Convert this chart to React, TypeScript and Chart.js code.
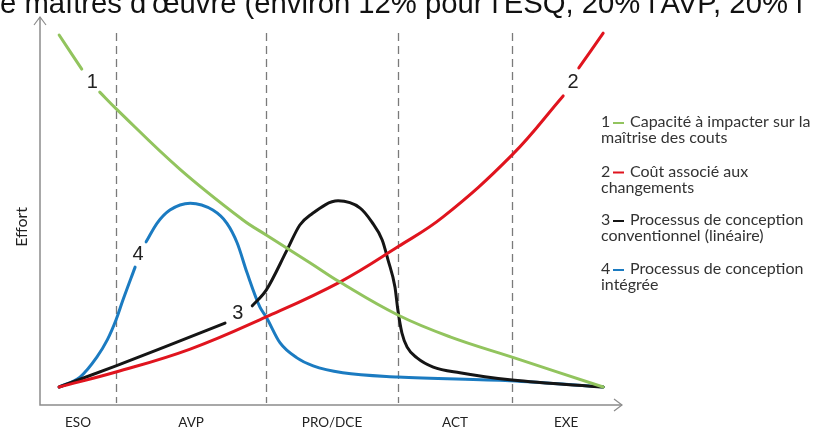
import React, { useEffect, useRef } from "react";
import { Chart, registerables } from "chart.js";

Chart.register(...registerables);

// ---- data ----
const titleText = "e maîtres d'œuvre (environ 12% pour l'ESQ, 20% l'AVP, 20% l";
const phaseLabels = ["ESO", "AVP", "PRO/DCE", "ACT", "EXE"];
const phaseBounds = [0, 13.1, 39.0, 61.7, 81.4, 100];
const axisTitle = "Effort";

// 1 - capacité à impacter (green)
const capaciteX = [3.3, 7.2, 8.8, 10.3, 13.1, 24.1, 35.0, 39.0, 46.6, 51.7, 61.7, 70.7, 81.4, 97.1];
const capaciteY = [96.6, 87.7, null, 81.7, 77.4, 61.6, 48.3, 44.4, 37.1, 32.1, 23.5, 17.8, 12.5, 4.7];

// 2 - coût associé aux changements (red)
const coutX = [3.3, 13.1, 25.9, 39.0, 51.7, 61.7, 69.5, 81.4, 90.2, 91.5, 92.9, 97.1];
const coutY = [4.7, 8.6, 14.6, 23.0, 32.1, 41.3, 49.1, 65.3, 80.7, null, 88.0, 97.1];

// 3 - processus conventionnel (black)
const convX = [3.3, 13.1, 22.4, 31.9, 33.5, 36.6, 39.0, 42.6, 44.8, 46.6, 51.4, 55.2, 57.2, 59.0, 60.0, 61.2, 61.7, 62.4, 63.3, 65.0, 67.8, 72.4, 81.4, 97.1];
const convY = [4.7, 10.2, 15.7, 21.4, null, 25.9, 30.0, 40.5, 47.0, 49.6, 53.3, 51.4, 47.8, 43.1, 37.9, 30.8, 24.8, 18.8, 15.1, 12.3, 9.9, 8.4, 6.5, 4.7];

// 4 - processus intégré (blue)
const integX = [3.3, 6.9, 9.8, 11.6, 13.1, 14.3, 16.4, 17.3, 18.3, 20.2, 22.4, 25.9, 29.8, 32.2, 34.0, 35.7, 37.9, 39.0, 41.4, 44.3, 47.1, 52.2, 61.7, 81.0, 97.1];
const integY = [4.7, 7.3, 12.5, 17.0, 22.2, 27.4, 36.0, null, 42.6, 47.5, 50.9, 52.7, 50.9, 47.5, 42.3, 34.5, 25.6, 23.0, 16.2, 12.3, 10.2, 8.4, 7.3, 6.3, 4.7];

const curveNames = ["1", "2", "3", "4"];
const curveColors = ["#92c45e", "#e0141e", "#151515", "#1b7bc1"];
const curveModes = ["default", "default", "monotone", "monotone"];
const curveLabelX = [9.0, 91.9, 34.1, 16.9];
const curveLabelY = [84.3, 84.3, 24.0, 39.2];

const legendLines = [
  ["Capacité à impacter sur la", "maîtrise des couts"],
  ["Coût associé aux", "changements"],
  ["Processus de conception", "conventionnel (linéaire)"],
  ["Processus de conception", "intégrée"],
];

const toPoints = (xs: number[], ys: (number | null)[]) => xs.map((x, i) => ({ x, y: ys[i] }));

const decorPlugin = {
  id: "decor",
  beforeDatasetsDraw(chart: any) {
    const { ctx } = chart;
    const xs = chart.scales.x;
    const ys = chart.scales.y;
    const x0 = xs.getPixelForValue(0);
    const x1 = xs.getPixelForValue(100);
    const y0 = ys.getPixelForValue(0);
    const y1 = ys.getPixelForValue(100);
    ctx.save();

    // title (clipped at top)
    ctx.font = "100px 'Liberation Sans', Arial, sans-serif";
    const w = ctx.measureText(titleText).width;
    const size = (100 * 803) / w;
    ctx.font = `${size}px 'Liberation Sans', Arial, sans-serif`;
    ctx.fillStyle = "#111";
    ctx.textBaseline = "alphabetic";
    ctx.textAlign = "left";
    ctx.fillText(titleText, 0, 13);

    // axes
    ctx.strokeStyle = "#8c8c8c";
    ctx.lineWidth = 1.5;
    ctx.beginPath();
    ctx.moveTo(x0, y1 - 5);
    ctx.lineTo(x0, y0);
    ctx.lineTo(x1 + 2, y0);
    ctx.stroke();
    ctx.lineWidth = 1.2;
    ctx.beginPath();
    ctx.moveTo(x0 - 6, y1 + 3);
    ctx.lineTo(x0, y1 - 5);
    ctx.lineTo(x0 + 6, y1 + 3);
    ctx.moveTo(x1 - 6, y0 - 6);
    ctx.lineTo(x1 + 2, y0);
    ctx.lineTo(x1 - 6, y0 + 6);
    ctx.stroke();

    // dashed phase separators
    ctx.strokeStyle = "#7a7a7a";
    ctx.lineWidth = 1.3;
    ctx.setLineDash([8, 5]);
    for (let i = 1; i < phaseBounds.length - 1; i++) {
      const px = Math.round(xs.getPixelForValue(phaseBounds[i])) + 0.5;
      ctx.beginPath();
      ctx.moveTo(px, ys.getPixelForValue(97.1));
      ctx.lineTo(px, y0 - 2);
      ctx.stroke();
    }
    ctx.setLineDash([]);

    // phase labels
    ctx.fillStyle = "#222";
    ctx.font = "13.5px Lato, 'Noto Sans', sans-serif";
    ctx.textAlign = "center";
    ctx.textBaseline = "middle";
    for (let i = 0; i < phaseLabels.length; i++) {
      const mid = (phaseBounds[i] + phaseBounds[i + 1]) / 2;
      ctx.fillText(phaseLabels[i], xs.getPixelForValue(mid), y0 + 18);
    }

    // y axis title
    ctx.save();
    ctx.translate(22, ys.getPixelForValue(46.5));
    ctx.rotate(-Math.PI / 2);
    ctx.font = "16px Lato, 'Noto Sans', sans-serif";
    ctx.fillText(axisTitle, 0, 0);
    ctx.restore();

    // legend
    ctx.textAlign = "left";
    ctx.textBaseline = "middle";
    ctx.font = "16px Lato, 'Noto Sans', sans-serif";
    const lx = 601;
    const blockY = [122, 171.5, 220, 269];
    for (let i = 0; i < legendLines.length; i++) {
      const by = blockY[i];
      ctx.fillStyle = "#333";
      ctx.fillText(curveNames[i], lx, by);
      ctx.fillStyle = curveColors[i];
      ctx.fillRect(lx + 12, by, 11, 2);
      ctx.fillStyle = "#333";
      ctx.fillText(legendLines[i][0], lx + 29, by);
      ctx.fillText(legendLines[i][1], lx, by + 16);
    }
    ctx.restore();
  },
  afterDatasetsDraw(chart: any) {
    const { ctx } = chart;
    const xs = chart.scales.x;
    const ys = chart.scales.y;
    ctx.save();
    ctx.fillStyle = "#222";
    ctx.font = "20px 'Liberation Sans', Arial, sans-serif";
    ctx.textAlign = "center";
    ctx.textBaseline = "middle";
    for (let i = 0; i < curveNames.length; i++) {
      ctx.fillText(curveNames[i], xs.getPixelForValue(curveLabelX[i]), ys.getPixelForValue(curveLabelY[i]));
    }
    ctx.restore();
  },
};

export default function App() {
  const ref = useRef<HTMLCanvasElement>(null);
  useEffect(() => {
    document.body.style.margin = "0";
    const series = [
      toPoints(capaciteX, capaciteY),
      toPoints(coutX, coutY),
      toPoints(convX, convY),
      toPoints(integX, integY),
    ];
    const chart = new Chart(ref.current!, {
      type: "line",
      data: {
        datasets: series.map((data, i) => ({
          label: curveNames[i],
          data: data as any,
          borderColor: curveColors[i],
          backgroundColor: curveColors[i],
          borderWidth: 3,
          pointRadius: 0,
          cubicInterpolationMode: curveModes[i] as any,
          tension: 0.4,
          spanGaps: false,
          fill: false,
          clip: false as any,
          borderCapStyle: "round" as const,
        })),
      },
      options: {
        animation: false,
        responsive: false,
        devicePixelRatio: 1,
        layout: { padding: { left: 40, right: 193, top: 22, bottom: 25 } },
        plugins: { legend: { display: false }, tooltip: { enabled: false }, title: { display: false } },
        scales: {
          x: { type: "linear", min: 0, max: 100, display: false },
          y: { type: "linear", min: 0, max: 100, display: false },
        },
      },
      plugins: [decorPlugin],
    });
    return () => chart.destroy();
  }, []);
  return (
    <div style={{ position: "absolute", left: 0, top: 0, width: 813, height: 430, background: "#fff" }}>
      <canvas ref={ref} width={813} height={430} style={{ width: 813, height: 430, display: "block" }} />
    </div>
  );
}
